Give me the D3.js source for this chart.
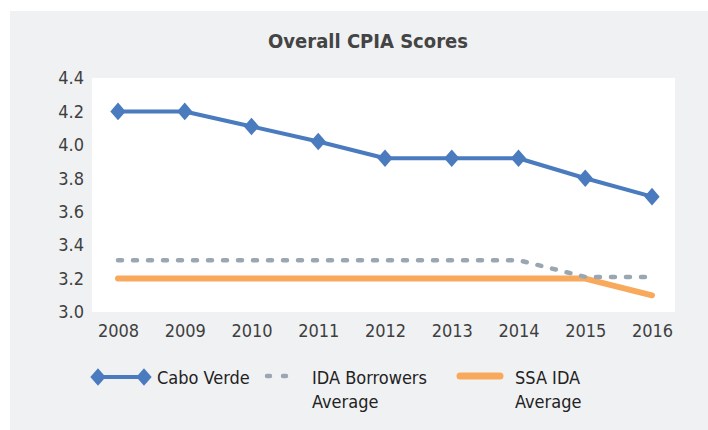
<!DOCTYPE html>
<html>
<head>
<meta charset="utf-8">
<script src="https://cdn.jsdelivr.net/npm/d3@7"></script>
<style>
  body { margin: 0; background: #fff; }
  svg text { font-family: "Liberation Sans Narrow", "DejaVu Sans Condensed", "Roboto", sans-serif; font-stretch: condensed; fill: #3f3f3f; }
</style>
</head>
<body>
<svg id="chart" width="708" height="430"></svg>
<script>
  // Data
  const years = ["2008", "2009", "2010", "2011", "2012", "2013", "2014", "2015", "2016"];
  const caboVerde = [4.2, 4.2, 4.11, 4.02, 3.92, 3.92, 3.92, 3.8, 3.69];
  const idaBorrowers = [3.31, 3.31, 3.31, 3.31, 3.31, 3.31, 3.31, 3.21, 3.21];
  const ssaIda = [3.2, 3.2, 3.2, 3.2, 3.2, 3.2, 3.2, 3.2, 3.1];
  const yTicks = [3.0, 3.2, 3.4, 3.6, 3.8, 4.0, 4.2, 4.4];

  const svg = d3.select("#chart");

  // Panel background
  svg.append("rect")
    .attr("x", 10).attr("y", 11)
    .attr("width", 698).attr("height", 419)
    .attr("fill", "#f0f1f3");

  // Plot area
  svg.append("rect")
    .attr("x", 92).attr("y", 78)
    .attr("width", 583).attr("height", 234)
    .attr("fill", "#ffffff");

  const x = d3.scalePoint()
    .domain(years)
    .range([118, 652]);

  const y = d3.scaleLinear()
    .domain([3.0, 4.4])
    .range([312, 78]);

  // Title
  svg.append("text")
    .attr("x", 368).attr("y", 48)
    .attr("text-anchor", "middle")
    .style("font-size", "20px")
    .style("font-weight", "bold")
    .style("fill", "#444")
    .text("Overall CPIA Scores");

  // Y axis (labels only)
  const yAxis = svg.append("g")
    .attr("transform", "translate(84,0)")
    .call(d3.axisLeft(y).tickValues(yTicks).tickFormat(d3.format(".1f")).tickSize(0));
  yAxis.select(".domain").remove();
  yAxis.selectAll("text")
    .attr("x", 0)
    .style("font-size", "18px");

  // X axis (labels only)
  const xAxis = svg.append("g")
    .attr("transform", "translate(0,321)")
    .call(d3.axisBottom(x).tickSize(0));
  xAxis.select(".domain").remove();
  xAxis.selectAll("text")
    .attr("dy", "0.71em")
    .style("font-size", "18px");

  const line = d3.line()
    .x((d, i) => x(years[i]))
    .y(d => y(d));

  // SSA IDA Average
  svg.append("path")
    .datum(ssaIda)
    .attr("d", line)
    .attr("fill", "none")
    .attr("stroke", "#f9a95c")
    .attr("stroke-width", 6)
    .attr("stroke-linecap", "round")
    .attr("stroke-linejoin", "round");

  // IDA Borrowers Average
  svg.append("path")
    .datum(idaBorrowers)
    .attr("d", line)
    .attr("fill", "none")
    .attr("stroke", "#9ba6b3")
    .attr("stroke-width", 4.5)
    .attr("stroke-linecap", "round")
    .attr("stroke-dasharray", "4,11");

  // Cabo Verde
  svg.append("path")
    .datum(caboVerde)
    .attr("d", line)
    .attr("fill", "none")
    .attr("stroke", "#4a7bbf")
    .attr("stroke-width", 4)
    .attr("stroke-linejoin", "round");

  const diamond = d3.symbol().type(d3.symbolDiamond2).size(150);
  svg.selectAll(".marker")
    .data(caboVerde)
    .enter()
    .append("path")
    .attr("class", "marker")
    .attr("d", diamond)
    .attr("transform", (d, i) => `translate(${x(years[i])},${y(d)}) scale(1,1.15)`)
    .attr("fill", "#4a7bbf");

  // Legend
  const legend = svg.append("g");
  legend.append("line")
    .attr("x1", 98).attr("x2", 144).attr("y1", 377).attr("y2", 377)
    .attr("stroke", "#4a7bbf").attr("stroke-width", 4);
  [98, 144].forEach(px => {
    legend.append("path")
      .attr("d", diamond)
      .attr("transform", `translate(${px},377) scale(1,1.15)`)
      .attr("fill", "#4a7bbf");
  });
  legend.append("text")
    .attr("x", 157).attr("y", 384)
    .style("font-size", "18px").style("fill", "#222")
    .text("Cabo Verde");

  legend.append("line")
    .attr("x1", 267).attr("x2", 299).attr("y1", 376).attr("y2", 376)
    .attr("stroke", "#9ba6b3").attr("stroke-width", 4.5)
    .attr("stroke-linecap", "round").attr("stroke-dasharray", "3,13");
  legend.append("text")
    .attr("x", 312).attr("y", 384)
    .style("font-size", "18px").style("fill", "#222")
    .selectAll("tspan")
    .data(["IDA Borrowers", "Average"])
    .enter().append("tspan")
    .attr("x", 312).attr("dy", (d, i) => i ? 24 : 0)
    .text(d => d);

  legend.append("line")
    .attr("x1", 460).attr("x2", 500).attr("y1", 376).attr("y2", 376)
    .attr("stroke", "#f9a95c").attr("stroke-width", 7)
    .attr("stroke-linecap", "round");
  legend.append("text")
    .attr("x", 515).attr("y", 384)
    .style("font-size", "18px").style("fill", "#222")
    .selectAll("tspan")
    .data(["SSA IDA", "Average"])
    .enter().append("tspan")
    .attr("x", 515).attr("dy", (d, i) => i ? 24 : 0)
    .text(d => d);
</script>
</body>
</html>
